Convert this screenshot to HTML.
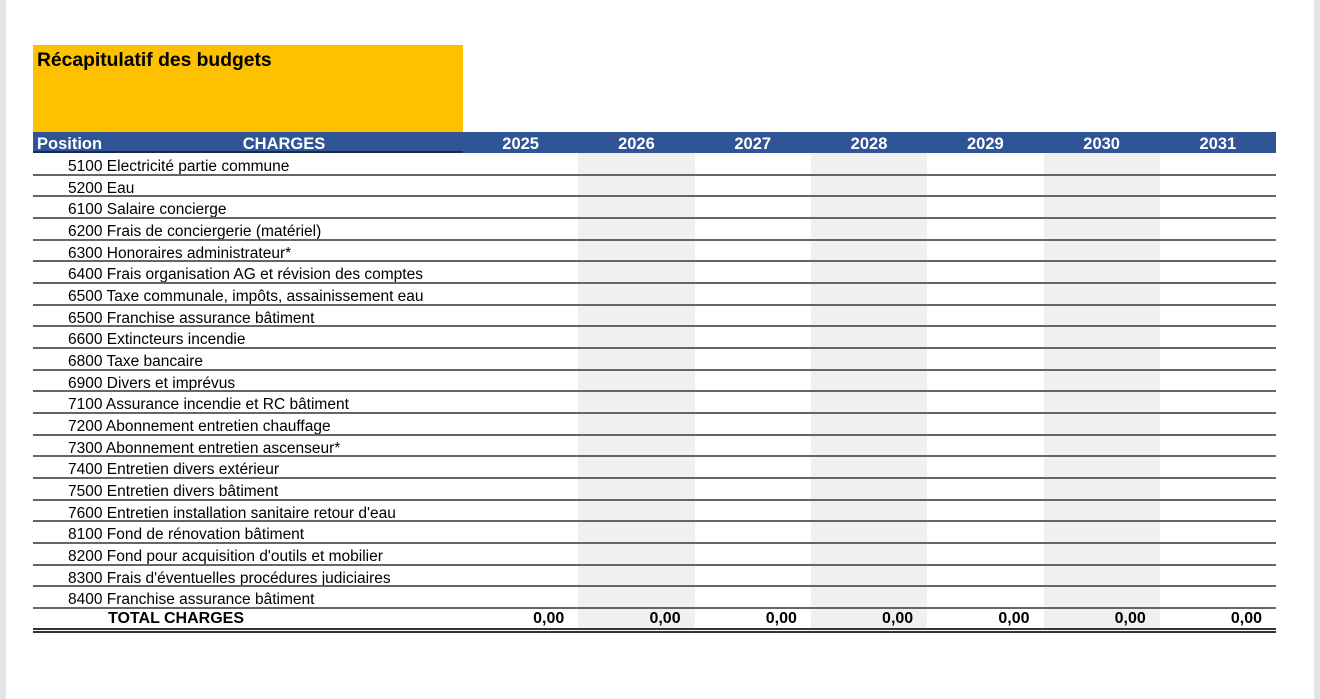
<!DOCTYPE html><html><head><meta charset="utf-8"><style>
body{margin:0;width:1320px;height:699px;background:#fff;position:relative;overflow:hidden;font-family:"Liberation Sans",Arial,sans-serif;}
.a{position:absolute}
.t{position:absolute;font-size:15.5px;color:#000;white-space:nowrap;line-height:16px}
.h{position:absolute;font-size:16.5px;color:#fff;font-weight:bold;line-height:20px;top:134px;text-align:center}
</style></head><body>
<div class="a" style="left:0;top:0;width:6px;height:699px;background:#e4e4e4"></div>
<div class="a" style="left:1314px;top:0;width:6px;height:699px;background:#e4e4e4"></div>
<div class="a" style="left:33px;top:45px;width:430px;height:88px;background:#fdc100"></div>
<div class="t" style="left:37px;top:51px;font-size:19.3px;font-weight:bold;line-height:20px">Récapitulatif des budgets</div>
<div class="a" style="left:33px;top:132px;width:1243px;height:21px;background:#2f5597"></div>
<div class="a" style="left:33px;top:151px;width:430px;height:2px;background:#1a2a50"></div>
<div class="h" style="left:37px;text-align:left">Position</div>
<div class="h" style="left:199px;width:170px">CHARGES</div>
<div id="g"></div>
<script>
var s='';var L=[463,578.3,694.6,810.9,927.2,1043.5,1159.8,1276];
var y=['2025','2026','2027','2028','2029','2030','2031'];
for(var i=0;i<7;i++){s+='<div class="h" style="left:'+L[i]+'px;width:'+(L[i+1]-L[i])+'px">'+y[i]+'</div>';
if(i%2==1)s+='<div class="a" style="left:'+L[i]+'px;top:153px;width:'+(L[i+1]-L[i])+'px;height:475px;background:#f0f0f0"></div>';}
var r=["5100 Electricité partie commune","5200 Eau","6100 Salaire concierge","6200 Frais de conciergerie (matériel)","6300 Honoraires administrateur*","6400 Frais organisation AG et révision des comptes","6500 Taxe communale, impôts, assainissement eau","6500 Franchise assurance bâtiment","6600 Extincteurs incendie","6800 Taxe bancaire","6900 Divers et imprévus","7100 Assurance incendie et RC bâtiment","7200 Abonnement entretien chauffage","7300 Abonnement entretien ascenseur*","7400 Entretien divers extérieur","7500 Entretien divers bâtiment","7600 Entretien installation sanitaire retour d'eau","8100 Fond de rénovation bâtiment","8200 Fond pour acquisition d'outils et mobilier","8300 Frais d'éventuelles procédures judiciaires","8400 Franchise assurance bâtiment"];
var h=21.67;
for(var k=0;k<21;k++){var t=153+k*h;s+='<div class="t" style="left:68px;top:'+(t+6)+'px">'+r[k]+'</div>';
s+='<div class="a" style="left:33px;top:'+(t+h-1)+'px;width:1243px;height:2px;background:#666"></div>';}
s+='<div class="t" style="left:108px;top:611px;font-weight:bold;font-size:16px">TOTAL CHARGES</div>';
for(var i=0;i<7;i++)s+='<div class="t" style="left:'+L[i]+'px;width:'+(L[i+1]-L[i]-14)+'px;text-align:right;top:611px;font-weight:bold;font-size:16px">0,00</div>';
s+='<div class="a" style="left:33px;top:628px;width:1243px;height:1.5px;background:#333"></div>';
s+='<div class="a" style="left:33px;top:631px;width:1243px;height:1.5px;background:#333"></div>';
document.getElementById('g').innerHTML=s;
</script>
</body></html>
